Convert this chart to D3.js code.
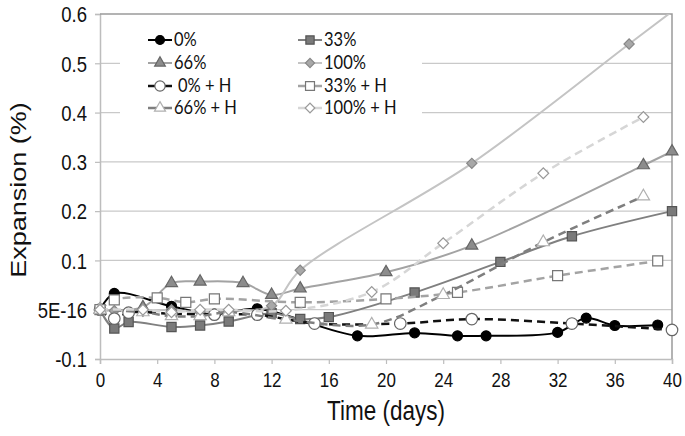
<!DOCTYPE html>
<html lang="en">
  <head>
    <meta charset="UTF-8" />
    <title>Expansion vs time</title>
    <style>
      body {
        margin: 0;
        background-color: #fff;
      }
      svg {
        display: block;
      }
      .tick-label {
        font-family: "Liberation Sans", Arial, sans-serif;
        font-size: 17px;
        fill: #111;
      }
      .y-label {
        font-size: 18.5px;
      }
      .axis-title {
        font-family: "Liberation Sans", Arial, sans-serif;
        font-size: 22.5px;
        fill: #111;
      }
      .legend-label {
        font-family: Lato, "Open Sans", sans-serif;
        font-size: 16.5px;
        fill: #111;
      }
    </style>
  </head>
  <body>
    <svg id="chart" width="685" height="436"></svg>
    <script src="https://d3js.org/d3.v7.min.js"></script>
    <script>
      // values (days, % expansion)
      const days0 = [0, 1, 5, 8, 11, 18, 22, 25, 27, 32, 34, 36, 39];
      const exp0 = [0, 0.033, 0.007, -0.009, 0.002, -0.053, -0.047, -0.053, -0.053, -0.046, -0.017, -0.032, -0.031];

      const days33 = [0, 1, 2, 5, 7, 9, 12, 14, 16, 22, 28, 33, 40];
      const exp33 = [0, -0.038, -0.025, -0.035, -0.032, -0.024, -0.007, -0.019, -0.015, 0.035, 0.097, 0.149, 0.2];

      const days66 = [0, 3, 5, 7, 10, 12, 14, 20, 26, 38, 40];
      const exp66 = [0, 0.005, 0.054, 0.057, 0.054, 0.03, 0.043, 0.076, 0.13, 0.293, 0.321];

      const days100 = [0, 1, 3, 5, 7, 9, 12, 14, 26, 37, 40];
      const exp100 = [0, -0.002, -0.003, 0, -0.005, -0.002, 0.008, 0.08, 0.297, 0.539, 0.605];

      const days0H = [0, 1, 2, 5, 8, 11, 15, 21, 26, 33, 40];
      const exp0H = [0, -0.018, -0.006, -0.008, -0.01, -0.01, -0.028, -0.028, -0.019, -0.028, -0.041];

      const days33H = [0, 1, 4, 6, 8, 14, 20, 25, 32, 39];
      const exp33H = [0, 0.02, 0.024, 0.015, 0.022, 0.015, 0.022, 0.035, 0.069, 0.099];

      const days66H = [0, 3, 5, 7, 9, 13, 19, 24, 31, 38];
      const exp66H = [0, -0.005, -0.013, -0.013, -0.005, -0.02, -0.03, 0.03, 0.137, 0.23];

      const days100H = [0, 3, 5, 7, 9, 13, 19, 24, 31, 38];
      const exp100H = [0, 0, -0.005, 0, 0, -0.002, 0.036, 0.135, 0.277, 0.391];

      const seriesNames = ["0%", "33%", "66%", "100%", "0% + H", "33% + H", "66% + H", "100% + H"];
      const xTicks = [0, 4, 8, 12, 16, 20, 24, 28, 32, 36, 40];
      const yTicks = [-0.1, 0, 0.1, 0.2, 0.3, 0.4, 0.5, 0.6];
      const yTickLabels = ["-0.1", "5E-16", "0.1", "0.2", "0.3", "0.4", "0.5", "0.6"];

      // the source figure is a bit taller than it is wide, so text is stretched
      const stretch = 1.2;

      const styles = [
        { line: "#000", width: 2, dash: null, shape: d3.symbolCircle, size: 78, rot: 0, fill: "#000", stroke: "#000" },
        { line: "#808080", width: 2, dash: null, shape: d3.symbolSquare, size: 85, rot: 0, fill: "#7a7a7a", stroke: "#555" },
        { line: "#a3a3a3", width: 2, dash: null, shape: d3.symbolTriangle, size: 62, rot: 0, fill: "#8c8c8c", stroke: "#666" },
        { line: "#c4c4c4", width: 2, dash: null, shape: d3.symbolSquare, size: 52, rot: 45, fill: "#a8a8a8", stroke: "#888" },
        { line: "#111", width: 2.5, dash: "8,5", shape: d3.symbolCircle, size: 105, rot: 0, fill: "#fff", stroke: "#666" },
        { line: "#a3a3a3", width: 2.5, dash: "8,5", shape: d3.symbolSquare, size: 100, rot: 0, fill: "#fff", stroke: "#777" },
        { line: "#7f7f7f", width: 2.5, dash: "8,5", shape: d3.symbolTriangle, size: 66, rot: 0, fill: "#fff", stroke: "#b0b0b0" },
        { line: "#d6d6d6", width: 2.5, dash: "8,5", shape: d3.symbolSquare, size: 58, rot: 45, fill: "#fff", stroke: "#999" },
      ];

      const allDays = [days0, days33, days66, days100, days0H, days33H, days66H, days100H];
      const allExp = [exp0, exp33, exp66, exp100, exp0H, exp33H, exp66H, exp100H];

      const series = seriesNames.map((name, i) => ({
        name,
        style: styles[i],
        points: allDays[i].map((d, j) => ({ day: d, value: allExp[i][j] })),
      }));

      const svg = d3.select("#chart");
      const plotLeft = 100, plotRight = 672, plotTop = 14, plotBottom = 359;

      const x = d3.scaleLinear().domain([0, 40]).range([plotLeft, plotRight]);
      const y = d3.scaleLinear().domain([-0.1, 0.6]).range([plotBottom, plotTop]);

      svg.append("clipPath").attr("id", "plotClip")
        .append("rect")
        .attr("x", plotLeft - 8).attr("y", plotTop)
        .attr("width", plotRight - plotLeft + 16).attr("height", plotBottom - plotTop + 8);

      // gridlines
      svg.append("g")
        .selectAll("line")
        .data(yTicks.filter((t) => t > -0.1 && t < 0.6))
        .join("line")
        .attr("x1", plotLeft).attr("x2", plotRight)
        .attr("y1", (d) => y(d)).attr("y2", (d) => y(d))
        .attr("stroke", "#c9c9c9").attr("stroke-width", 1.2);

      // axes
      const yAxis = d3.axisLeft(y).tickValues(yTicks)
        .tickFormat((d, i) => yTickLabels[i]).tickSize(5);
      const gy = svg.append("g").attr("transform", `translate(${plotLeft},0)`).call(yAxis);
      gy.select(".domain").attr("stroke", "#bdbdbd").attr("stroke-width", 1.5);
      gy.selectAll(".tick line").attr("stroke", "#bdbdbd").attr("stroke-width", 1.2);
      gy.selectAll(".tick text")
        .attr("class", "tick-label y-label")
        .attr("x", 0).attr("y", 0).attr("dy", null)
        .attr("transform", `translate(-13,7.8) scale(1,${stretch})`);

      const xAxis = d3.axisBottom(x).tickValues(xTicks).tickSize(5);
      const gx = svg.append("g").attr("transform", `translate(0,${plotBottom})`).call(xAxis);
      gx.select(".domain").attr("stroke", "#bdbdbd").attr("stroke-width", 1.5);
      gx.selectAll(".tick line").attr("stroke", "#bdbdbd").attr("stroke-width", 1.2);
      gx.selectAll(".tick text")
        .attr("class", "tick-label")
        .attr("y", 0).attr("dy", null)
        .attr("transform", `translate(0,28) scale(1,${stretch})`);
      svg.selectAll(".tick text").attr("font-size", null).attr("font-family", null);

      // plot border top and right
      svg.append("path")
        .attr("d", `M${plotLeft},${plotTop}H${plotRight}V${plotBottom}`)
        .attr("fill", "none").attr("stroke", "#9a9a9a").attr("stroke-width", 1.5);

      // axis titles
      svg.append("text").attr("class", "axis-title")
        .attr("transform", `translate(${(plotLeft + plotRight) / 2},420) scale(1,${stretch})`)
        .attr("text-anchor", "middle").text("Time (days)");
      svg.append("text").attr("class", "axis-title")
        .attr("transform", `translate(26,190) rotate(-90) scale(${stretch},1)`)
        .attr("text-anchor", "middle").text("Expansion (%)");

      // series
      const line = d3.line()
        .x((d) => x(d.day)).y((d) => y(d.value))
        .curve(d3.curveCatmullRom.alpha(0.5));

      const plot = svg.append("g").attr("clip-path", "url(#plotClip)");

      series.forEach((s) => {
        plot.append("path")
          .datum(s.points)
          .attr("d", line)
          .attr("fill", "none")
          .attr("stroke", s.style.line)
          .attr("stroke-width", s.style.width)
          .attr("stroke-dasharray", s.style.dash);

        plot.append("g")
          .selectAll("path")
          .data(s.points.filter((p) => p.value <= 0.6))
          .join("path")
          .attr("transform", (p) => `translate(${x(p.day)},${y(p.value)}) rotate(${s.style.rot})`)
          .attr("d", d3.symbol().type(s.style.shape).size(s.style.size))
          .attr("fill", s.style.fill)
          .attr("stroke", s.style.stroke)
          .attr("stroke-width", 1.2);
      });

      // legend
      const legend = svg.append("g");
      legend.append("rect")
        .attr("x", 120).attr("y", 26).attr("width", 302).attr("height", 98)
        .attr("fill", "#fff");

      const legendCols = [148, 298];
      const legendRows = [40, 63, 86, 108];

      series.forEach((s, i) => {
        const lx = legendCols[i % 2];
        const ly = legendRows[Math.floor(i / 2)];
        const item = legend.append("g").attr("transform", `translate(${lx},${ly})`);
        item.append("line")
          .attr("x1", 0).attr("x2", 24)
          .attr("stroke", s.style.line)
          .attr("stroke-width", s.style.width);
        item.append("path")
          .attr("transform", `translate(12,0) rotate(${s.style.rot})`)
          .attr("d", d3.symbol().type(s.style.shape).size(s.style.size * 0.8))
          .attr("fill", s.style.fill)
          .attr("stroke", s.style.stroke)
          .attr("stroke-width", 1.2);
        item.append("text")
          .attr("class", "legend-label")
          .attr("transform", `translate(${i === 4 ? 30 : 26},6) scale(1,${stretch})`)
          .text(s.name);
      });
    </script>
  </body>
</html>
